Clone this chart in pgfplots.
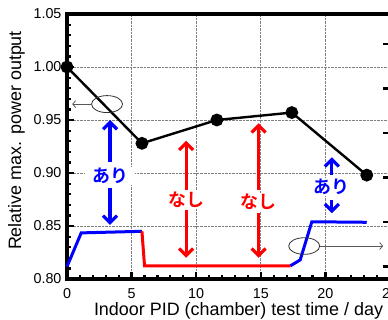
\documentclass[border=0pt]{standalone}
\usepackage{fontspec}
\setmainfont{Liberation Sans}
\newfontfamily\jp{Noto Sans CJK JP Bold}
\usepackage{pgfplots}
\pgfplotsset{compat=1.18}
\usetikzlibrary{arrows.meta}

\begin{document}
\begin{tikzpicture}
\begin{axis}[
 width=323bp, height=265bp, scale only axis,
 xmin=0, xmax=25, ymin=0.80, ymax=1.05,
 xtick={0,5,10,15,20,25},
 ytick={0.80,0.85,0.90,0.95,1.00,1.05},
 yticklabel style={/pgf/number format/fixed, /pgf/number format/fixed zerofill, /pgf/number format/precision=2, xshift=-2bp},
 /pgf/number format/assume math mode=true,
 minor x tick num=4, minor y tick num=4,
 xtick pos=bottom, ytick pos=left,
 tick align=inside,
 major tick length=7bp, minor tick length=4bp,
 every tick/.style={black, line width=2.2bp},
 axis line style={line width=3.3bp},
 grid=major,
 major grid style={gray, densely dotted, line width=0.8bp},
 tick label style={font=\fontsize{14.4}{14.4}\selectfont},
 xticklabel style={yshift=-6bp},
 label style={font=\fontsize{18}{18}\selectfont},
 xlabel={Indoor PID (chamber) test time / day},
 ylabel={Relative max. power output},
 xlabel style={at={(axis description cs:0.531,-0.1390)}, anchor=base},
 ylabel style={at={(axis description cs:-0.1424,0.5226)}, anchor=base},
 clip=false,
]
\addplot[black, line width=2.4bp, mark=*, mark size=5.2bp] coordinates {(0,1.000) (5.8,0.928) (11.6,0.950) (17.4,0.957) (23.2,0.898)};
\addplot[blue, line width=3bp] coordinates {(0,0.8117) (1.1,0.8435) (5.8,0.845)};
\addplot[red, line width=3bp] coordinates {(5.8,0.845) (6.0,0.8125) (17.3,0.8125)};
\addplot[blue, line width=3bp] coordinates {(17.3,0.8125) (18.05,0.818) (18.95,0.854) (23.2,0.8535)};

% ellipses with arrows
\draw[line width=0.8bp, black!80] (axis cs:3.1,0.965) ellipse [x radius=15.5bp, y radius=8.5bp];
\draw[line width=0.8bp, black!65, -{Straight Barb[length=3bp,width=7bp]}] (axis cs:1.9,0.965) -- (axis cs:0.4,0.965);
\draw[line width=0.8bp, black!80] (axis cs:18.36,0.8311) ellipse [x radius=15.5bp, y radius=8.3bp];
\draw[line width=0.8bp, black!65, -{Straight Barb[length=3bp,width=7bp]}] (axis cs:19.55,0.8311) -- (axis cs:24.47,0.8311);

% arrows
\tikzset{bigarr/.style={line width=3.2bp, -{Straight Barb[length=7bp,width=14bp]}}}
\draw[blue, bigarr] (axis cs:3.33,0.91) -- (axis cs:3.33,0.95);
\draw[blue, bigarr] (axis cs:3.33,0.8858) -- (axis cs:3.33,0.851);
\draw[red, bigarr] (axis cs:9.22,0.884) -- (axis cs:9.22,0.9305);
\draw[red, bigarr] (axis cs:9.22,0.865) -- (axis cs:9.22,0.82);
\draw[red, bigarr] (axis cs:14.83,0.884) -- (axis cs:14.83,0.947);
\draw[red, bigarr] (axis cs:14.83,0.862) -- (axis cs:14.83,0.82);
\draw[blue, bigarr] (axis cs:20.5,0.898) -- (axis cs:20.5,0.9148);
\draw[blue, bigarr] (axis cs:20.5,0.8745) -- (axis cs:20.5,0.862);

\tikzset{jplab/.style={fill=white, inner xsep=7bp, inner ysep=1bp, font={\fontsize{18}{18}\jp}}}
\node[jplab, text=blue] at (axis cs:3.33,0.897) {あり};
\node[jplab, text=red] at (axis cs:9.22,0.8745) {なし};
\node[jplab, text=red] at (axis cs:14.83,0.873) {なし};
\node[jplab, text=blue] at (axis cs:20.5,0.8865) {あり};
\end{axis}
\begin{axis}[
 width=323bp, height=265bp, scale only axis,
 xmin=0, xmax=25, ymin=0.80, ymax=1.05,
 hide x axis, axis y line*=right,
 ytick={0.8118,0.8538,0.8958,0.9377,0.9797,1.0217},
 yticklabels={},
 tick align=inside, major tick length=7bp,
 every tick/.style={black, line width=2.5bp},
 axis line style={line width=3.3bp},
]
\end{axis}
\pgfresetboundingbox
\path[use as bounding box] ([xshift=-67bp,yshift=-41bp]current axis.south west) rectangle ([xshift=-2bp,yshift=14bp]current axis.north east);
\end{tikzpicture}
\end{document}
